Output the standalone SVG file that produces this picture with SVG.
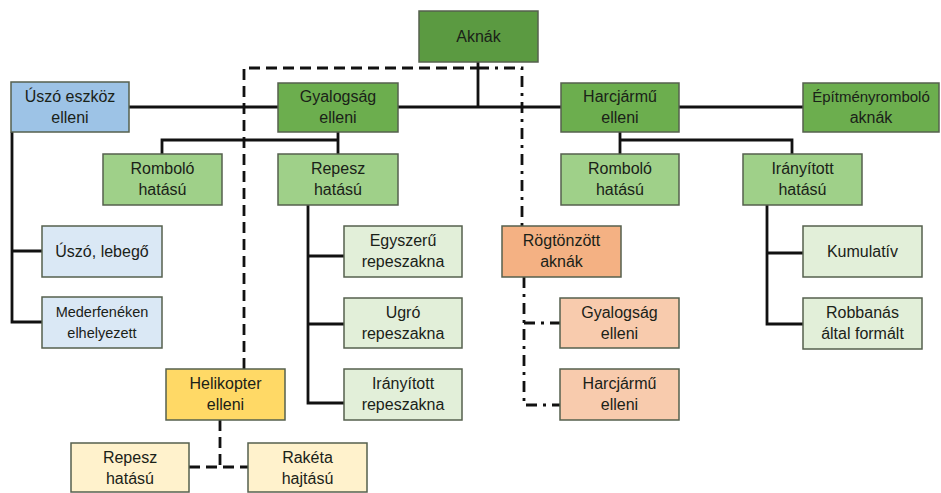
<svg xmlns="http://www.w3.org/2000/svg" width="941" height="493" viewBox="0 0 941 493">
<style>
rect{stroke:#55604e;stroke-width:1.5}
text{font-family:"Liberation Sans",Arial,sans-serif;font-size:16px;fill:#1a2218;text-anchor:middle}
.g0{fill:#5b9a41}.g1{fill:#6cae4e}.g2{fill:#9fd089}.g3{fill:#e2efd9}
.b1{fill:#9dc3e6}.b2{fill:#dae8f5}
.o1{fill:#f4b183}.o2{fill:#f8cbad}
.y1{fill:#ffd966}.y2{fill:#fff2cc}
.s{fill:none;stroke:#111;stroke-width:2.8}
.d{fill:none;stroke:#111;stroke-width:2.8;stroke-dasharray:11 6}
.dd{fill:none;stroke:#111;stroke-width:2.8;stroke-dasharray:11 6 3 6}
</style>
<g id="connectors">
<path class="s" d="M478 62V107M129 107H803"/>
<path class="s" d="M338 132V140M162 154V140H338V154"/>
<path class="s" d="M620 132V140M620 154V140H792V154"/>
<path class="s" d="M12 132V322H42M12 251H42"/>
<path class="s" d="M308 205V403H344M308 256H344M308 324H344"/>
<path class="s" d="M767 205V324H803M767 253H803"/>
<path class="d" d="M244 369V68H478"/>
<path class="dd" d="M478 68H522V226"/>
<path class="dd" d="M524 277V405H560M524 323H560"/>
<path class="d" d="M220 420V467M189 467H248"/>
</g>
<g id="aknak"><rect class="g0" x="419" y="11" width="119" height="51"/><text x="478.5" y="42">Aknák</text></g>
<g id="uszo-eszkoz"><rect class="b1" x="11" y="82" width="118" height="50"/><text x="70" y="102">Úszó eszköz</text><text x="70" y="123">elleni</text></g>
<g id="gyalogsag"><rect class="g1" x="278" y="83" width="120" height="49"/><text x="338" y="102">Gyalogság</text><text x="338" y="123">elleni</text></g>
<g id="harcjarmu"><rect class="g1" x="561" y="83" width="118" height="49"/><text x="620" y="102">Harcjármű</text><text x="620" y="123">elleni</text></g>
<g id="epitmeny"><rect class="g1" x="803" y="83" width="136" height="49"/><text x="871" y="102" style="font-size:15px">Építményromboló</text><text x="871" y="123">aknák</text></g>
<g id="rombolo-gy"><rect class="g2" x="103" y="154" width="119" height="51"/><text x="162.5" y="174">Romboló</text><text x="162.5" y="195">hatású</text></g>
<g id="repesz-gy"><rect class="g2" x="278" y="154" width="120" height="51"/><text x="338" y="174">Repesz</text><text x="338" y="195">hatású</text></g>
<g id="rombolo-h"><rect class="g2" x="561" y="154" width="118" height="51"/><text x="620" y="174">Romboló</text><text x="620" y="195">hatású</text></g>
<g id="iranyitott-h"><rect class="g2" x="743" y="154" width="119" height="51"/><text x="802.5" y="174">Irányított</text><text x="802.5" y="195">hatású</text></g>
<g id="uszo-lebego"><rect class="b2" x="42" y="226" width="120" height="51"/><text x="102" y="257">Úszó, lebegő</text></g>
<g id="mederfeneken"><rect class="b2" x="42" y="297" width="120" height="51"/><text x="102" y="317" style="font-size:14.5px">Mederfenéken</text><text x="102" y="338" style="font-size:14.5px">elhelyezett</text></g>
<g id="egyszeru"><rect class="g3" x="344" y="226" width="118" height="51"/><text x="403" y="246">Egyszerű</text><text x="403" y="267">repeszakna</text></g>
<g id="ugro"><rect class="g3" x="344" y="298" width="118" height="50"/><text x="403" y="318">Ugró</text><text x="403" y="339">repeszakna</text></g>
<g id="iranyitott-r"><rect class="g3" x="344" y="369" width="118" height="51"/><text x="403" y="389">Irányított</text><text x="403" y="410">repeszakna</text></g>
<g id="rogtonzott"><rect class="o1" x="502" y="226" width="119" height="51"/><text x="561.5" y="246">Rögtönzött</text><text x="561.5" y="267">aknák</text></g>
<g id="gyalogsag-r"><rect class="o2" x="560" y="298" width="119" height="50"/><text x="619.5" y="318">Gyalogság</text><text x="619.5" y="339">elleni</text></g>
<g id="harcjarmu-r"><rect class="o2" x="560" y="369" width="119" height="51"/><text x="619.5" y="389">Harcjármű</text><text x="619.5" y="410">elleni</text></g>
<g id="kumulativ"><rect class="g3" x="803" y="226" width="119" height="51"/><text x="862.5" y="257">Kumulatív</text></g>
<g id="robbanas"><rect class="g3" x="803" y="298" width="119" height="51"/><text x="862.5" y="318">Robbanás</text><text x="862.5" y="339">által formált</text></g>
<g id="helikopter"><rect class="y1" x="166" y="369" width="119" height="51"/><text x="225.5" y="389">Helikopter</text><text x="225.5" y="410">elleni</text></g>
<g id="repesz-he"><rect class="y2" x="71" y="443" width="118" height="49"/><text x="130" y="463">Repesz</text><text x="130" y="484">hatású</text></g>
<g id="raketa"><rect class="y2" x="248" y="443" width="119" height="49"/><text x="307.5" y="463">Rakéta</text><text x="307.5" y="484">hajtású</text></g>
</svg>
